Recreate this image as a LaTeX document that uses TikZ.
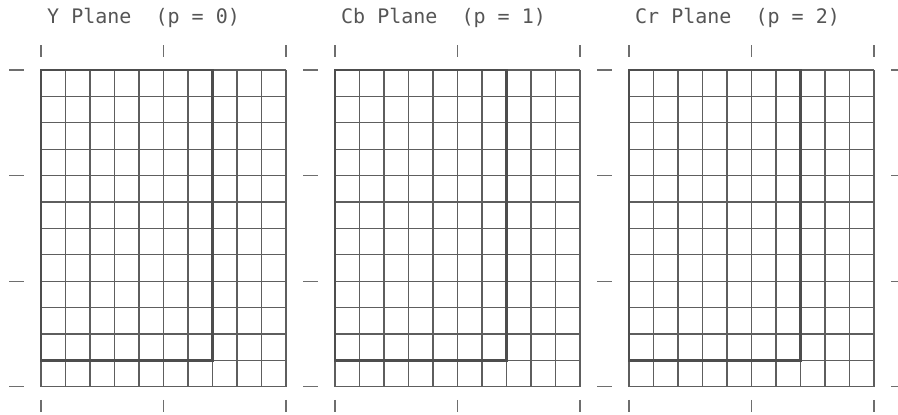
\documentclass[tikz,border=0pt]{standalone}
\usepackage{fontspec}
\setmonofont{DejaVu Sans Mono}
\usetikzlibrary{positioning}
\definecolor{gridLine}{HTML}{5e5e5e}
\definecolor{gridBox}{HTML}{4d4d4d}
\definecolor{tickMark}{HTML}{6e6e6e}
\definecolor{titleText}{HTML}{555555}
\begin{document}
\begin{tikzpicture}[x=1pt,y=1pt,cell/.style={draw=gridLine, line width=1.3pt},box/.style={draw=gridBox, line width=2.4pt},tickmark/.style={draw=tickMark, line width=1.3pt},ttl/.style={font=\fontsize{20}{24}\selectfont\ttfamily, text=titleText, anchor=base west, inner sep=0pt}]
\useasboundingbox (0,0) rectangle (898,415);
\foreach \p/\lbl in {0/Y, 1/Cb, 2/Cr} {
\begin{scope}[shift={(41+294*\p,28.2)}]
% cells: 10 columns x 12 rows
\foreach \c in {0,...,10} \draw[cell] (\c*24.5,0) -- (\c*24.5,316.8);
\foreach \r in {0,...,12} \draw[cell] (0,\r*26.4) -- (245,\r*26.4);
% active region 7 x 11
\draw[box] (0,26.4) rectangle (171.5,316.8);
% ticks
\foreach \c in {0,5,10} {\draw[tickmark] (\c*24.5,329.8) -- (\c*24.5,341.8); \draw[tickmark] (\c*24.5,-13.2) -- (\c*24.5,-25.2);}
\foreach \r in {0,4,8,12} {\draw[tickmark] (-32,\r*26.4) -- (-17,\r*26.4); \draw[tickmark] (262,\r*26.4) -- (277,\r*26.4);}
\node[ttl] (title-\p) at (6,362.8) {\lbl\ Plane\ \ (p = \p)};
\end{scope}
}
\end{tikzpicture}
\end{document}
